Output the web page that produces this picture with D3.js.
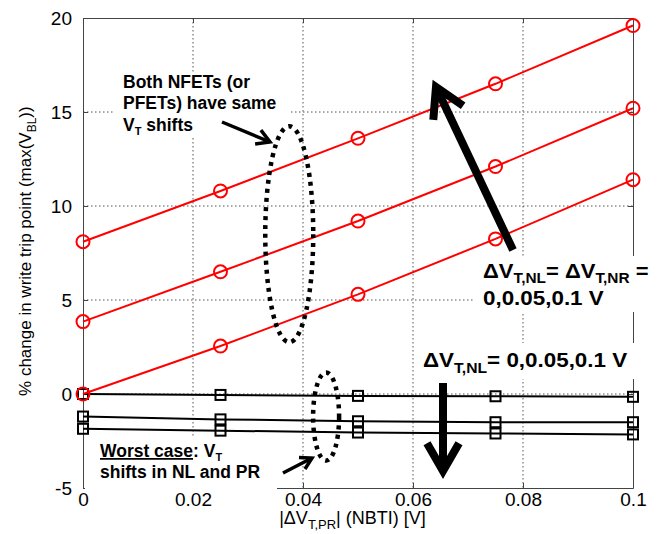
<!DOCTYPE html>
<html>
<head>
<meta charset="utf-8">
<script src="https://cdn.jsdelivr.net/npm/d3@7"></script>
<style>
  body { margin: 0; background: #fff; }
  text { font-family: Arial, "Liberation Sans", sans-serif; fill: #000; }
  .note { font-weight: bold; }
  .grid line { stroke: #555; stroke-dasharray: 1.5, 2.5; }
</style>
</head>
<body>
<svg width="670" height="534"></svg>
<script>
//x values shared by every curve
const xValues = [0, 0.025, 0.05, 0.075, 0.1];
//red curves: dVT,NL = dVT,NR = 0, 0.05, 0.1 V
const redSeries = [
  [0, 2.55, 5.3, 8.25, 11.4],
  [3.85, 6.5, 9.2, 12.1, 15.2],
  [8.1, 10.8, 13.6, 16.5, 19.6]
];
//black curves: worst case, dVT,NL = 0, 0.05, 0.1 V
const blackSeries = [
  [0, -0.05, -0.1, -0.12, -0.15],
  [-1.2, -1.35, -1.45, -1.5, -1.5],
  [-1.85, -1.95, -2.05, -2.1, -2.15]
];
const xTicks = [0, 0.02, 0.04, 0.06, 0.08, 0.1];
const xTickLabels = ["0", "0.02", "0.04", "0.06", "0.08", "0.1"];
const yTicks = [-5, 0, 5, 10, 15, 20];
const yTickLabels = ["-5", "0", "5", "10", "15", "20"];

let svg = d3.select("svg");
let plotLeft = 83,
  plotRight = 633,
  plotTop = 18,
  plotBottom = 488;

let x = d3.scaleLinear().domain([0, 0.1]).range([plotLeft, plotRight]);
let y = d3.scaleLinear().domain([-5, 20]).range([plotBottom, plotTop]);

// GRID
let grid = svg.append("g").attr("class", "grid");
grid.selectAll(".vg")
  .data(xTicks.slice(1, -1))
  .enter()
  .append("line")
  .attr("x1", function(d) { return x(d); })
  .attr("x2", function(d) { return x(d); })
  .attr("y1", plotTop)
  .attr("y2", plotBottom);
grid.selectAll(".hg")
  .data(yTicks.slice(1, -1))
  .enter()
  .append("line")
  .attr("x1", plotLeft)
  .attr("x2", plotRight)
  .attr("y1", function(d) { return y(d); })
  .attr("y2", function(d) { return y(d); });

// AXES (ticks point inward, box on all sides)
function styleAxis(sel) {
  sel.selectAll("path").attr("stroke", "#444");
  sel.selectAll("line").attr("stroke", "#444");
  sel.selectAll("text").attr("font-size", 19).attr("fill", "#000");
}
svg.append("g")
  .attr("transform", "translate(0," + plotBottom + ")")
  .call(d3.axisBottom(x).tickValues(xTicks).tickSize(-5).tickSizeOuter(0).tickPadding(5)
    .tickFormat(function(d, i) { return xTickLabels[i]; }))
  .call(styleAxis);
svg.append("g")
  .attr("transform", "translate(" + plotLeft + ",0)")
  .call(d3.axisLeft(y).tickValues(yTicks).tickSize(-5).tickSizeOuter(0).tickPadding(11)
    .tickFormat(function(d, i) { return yTickLabels[i]; }))
  .call(styleAxis);
svg.append("g")
  .attr("transform", "translate(0," + plotTop + ")")
  .call(d3.axisTop(x).tickValues(xTicks).tickSize(-5).tickSizeOuter(0).tickFormat(""))
  .call(styleAxis);
svg.append("g")
  .attr("transform", "translate(" + plotRight + ",0)")
  .call(d3.axisRight(y).tickValues(yTicks).tickSize(-5).tickSizeOuter(0).tickFormat(""))
  .call(styleAxis);

// CURVES
let line = d3.line()
  .x(function(d, i) { return x(xValues[i]); })
  .y(function(d) { return y(d); });

svg.selectAll(".blackLine")
  .data(blackSeries)
  .enter()
  .append("path")
  .attr("d", line)
  .attr("fill", "none")
  .attr("stroke", "#000")
  .attr("stroke-width", 2);

blackSeries.forEach(function(s) {
  svg.selectAll(null)
    .data(s)
    .enter()
    .append("rect")
    .attr("x", function(d, i) { return x(xValues[i]) - 5; })
    .attr("y", function(d) { return y(d) - 5; })
    .attr("width", 10)
    .attr("height", 10)
    .attr("fill", "none")
    .attr("stroke", "#000")
    .attr("stroke-width", 2);
});

svg.selectAll(".redLine")
  .data(redSeries)
  .enter()
  .append("path")
  .attr("d", line)
  .attr("fill", "none")
  .attr("stroke", "#ff0000")
  .attr("stroke-width", 2);

redSeries.forEach(function(s) {
  svg.selectAll(null)
    .data(s)
    .enter()
    .append("circle")
    .attr("cx", function(d, i) { return x(xValues[i]); })
    .attr("cy", function(d) { return y(d); })
    .attr("r", 6.5)
    .attr("fill", "none")
    .attr("stroke", "#ff0000")
    .attr("stroke-width", 2);
});

// AXIS LABELS
let xl = svg.append("text")
  .attr("x", x(0.03567))
  .attr("y", 524)
  .attr("font-size", 18);
xl.append("tspan").text("|\u0394V");
xl.append("tspan").attr("font-size", 13).attr("dy", 5).text("T,PR");
xl.append("tspan").attr("dy", -5).text("| (NBTI) [V]");

let yl = svg.append("text")
  .attr("transform", "translate(31," + y(7.6) + ") rotate(-90)")
  .attr("text-anchor", "middle")
  .attr("font-size", 17);
yl.append("tspan").text("% change in write trip point (max(V");
yl.append("tspan").attr("font-size", 12).attr("dy", 5).text("BL");
yl.append("tspan").attr("dy", -5).text("))");

// ANNOTATIONS
function whiteBox(x0, y0, w, h) {
  svg.append("rect")
    .attr("x", x0)
    .attr("y", y0)
    .attr("width", w)
    .attr("height", h)
    .attr("fill", "#fff");
}

function arrow(x1, y1, x2, y2, width, head) {
  let a = Math.atan2(y1 - y2, x1 - x2);
  let spread = Math.PI / 6;
  svg.append("line")
    .attr("x1", x1).attr("y1", y1)
    .attr("x2", x2).attr("y2", y2)
    .attr("stroke", "#000")
    .attr("stroke-width", width);
  svg.append("path")
    .attr("d", "M" + (x2 + head * Math.cos(a - spread)) + "," + (y2 + head * Math.sin(a - spread)) +
      "L" + x2 + "," + y2 +
      "L" + (x2 + head * Math.cos(a + spread)) + "," + (y2 + head * Math.sin(a + spread)))
    .attr("fill", "none")
    .attr("stroke", "#000")
    .attr("stroke-width", width)
    .attr("stroke-linejoin", "miter");
}

// Both NFETs note
whiteBox(113, 74, 178, 64);
svg.append("text").attr("class", "note").attr("x", 123).attr("y", 88).attr("font-size", 17.5)
  .text("Both NFETs (or");
svg.append("text").attr("class", "note").attr("x", 123).attr("y", 109).attr("font-size", 17.5)
  .text("PFETs) have same");
let n3 = svg.append("text").attr("class", "note").attr("x", 123).attr("y", 131).attr("font-size", 17.5);
n3.append("tspan").text("V");
n3.append("tspan").attr("font-size", 11).attr("dy", 4).text("T");
n3.append("tspan").attr("dy", -4).text(" shifts");

// top-right note
whiteBox(473, 256, 197, 56);
let t1 = svg.append("text").attr("class", "note")
  .attr("transform", "translate(483,278) scale(1.1,1)").attr("font-size", 20);
t1.append("tspan").text("\u0394V");
t1.append("tspan").attr("font-size", 14).attr("dy", 5).text("T,NL");
t1.append("tspan").attr("dy", -5).text("= \u0394V");
t1.append("tspan").attr("font-size", 14).attr("dy", 5).text("T,NR");
t1.append("tspan").attr("dy", -5).text(" =");
svg.append("text").attr("class", "note")
  .attr("transform", "translate(483,305) scale(1.12,1)").attr("font-size", 20)
  .text("0,0.05,0.1 V");

// black curves note
whiteBox(418, 343, 222, 36);
let t2 = svg.append("text").attr("class", "note")
  .attr("transform", "translate(423,367) scale(1.12,1)").attr("font-size", 20);
t2.append("tspan").text("\u0394V");
t2.append("tspan").attr("font-size", 14).attr("dy", 6).text("T,NL");
t2.append("tspan").attr("dy", -6).text("= 0,0.05,0.1 V");

// worst case note
whiteBox(85, 438, 192, 54);
let w1 = svg.append("text").attr("class", "note").attr("x", 100).attr("y", 457).attr("font-size", 17.5);
w1.append("tspan").attr("text-decoration", "underline").text("Worst case");
w1.append("tspan").text(": V");
w1.append("tspan").attr("font-size", 11).attr("dy", 4).text("T");
svg.append("text").attr("class", "note").attr("x", 100).attr("y", 478).attr("font-size", 17.5)
  .text("shifts in NL and PR");

// dotted ellipses
svg.append("ellipse")
  .attr("cx", x(0.0375)).attr("cy", y(8.5))
  .attr("rx", 24).attr("ry", 108)
  .attr("fill", "none").attr("stroke", "#000")
  .attr("stroke-width", 4.5).attr("stroke-dasharray", "4,5");
svg.append("ellipse")
  .attr("cx", x(0.0442)).attr("cy", y(-1.2))
  .attr("rx", 13).attr("ry", 44)
  .attr("fill", "none").attr("stroke", "#000")
  .attr("stroke-width", 4.5).attr("stroke-dasharray", "4,5");

// arrows
arrow(222, 122, 270, 142, 3.5, 15);
arrow(283, 473, 312, 458, 3.5, 13);
arrow(513, 250, 436, 87, 8, 33);
arrow(443, 383, 443, 471, 8, 32);
</script>
</body>
</html>
